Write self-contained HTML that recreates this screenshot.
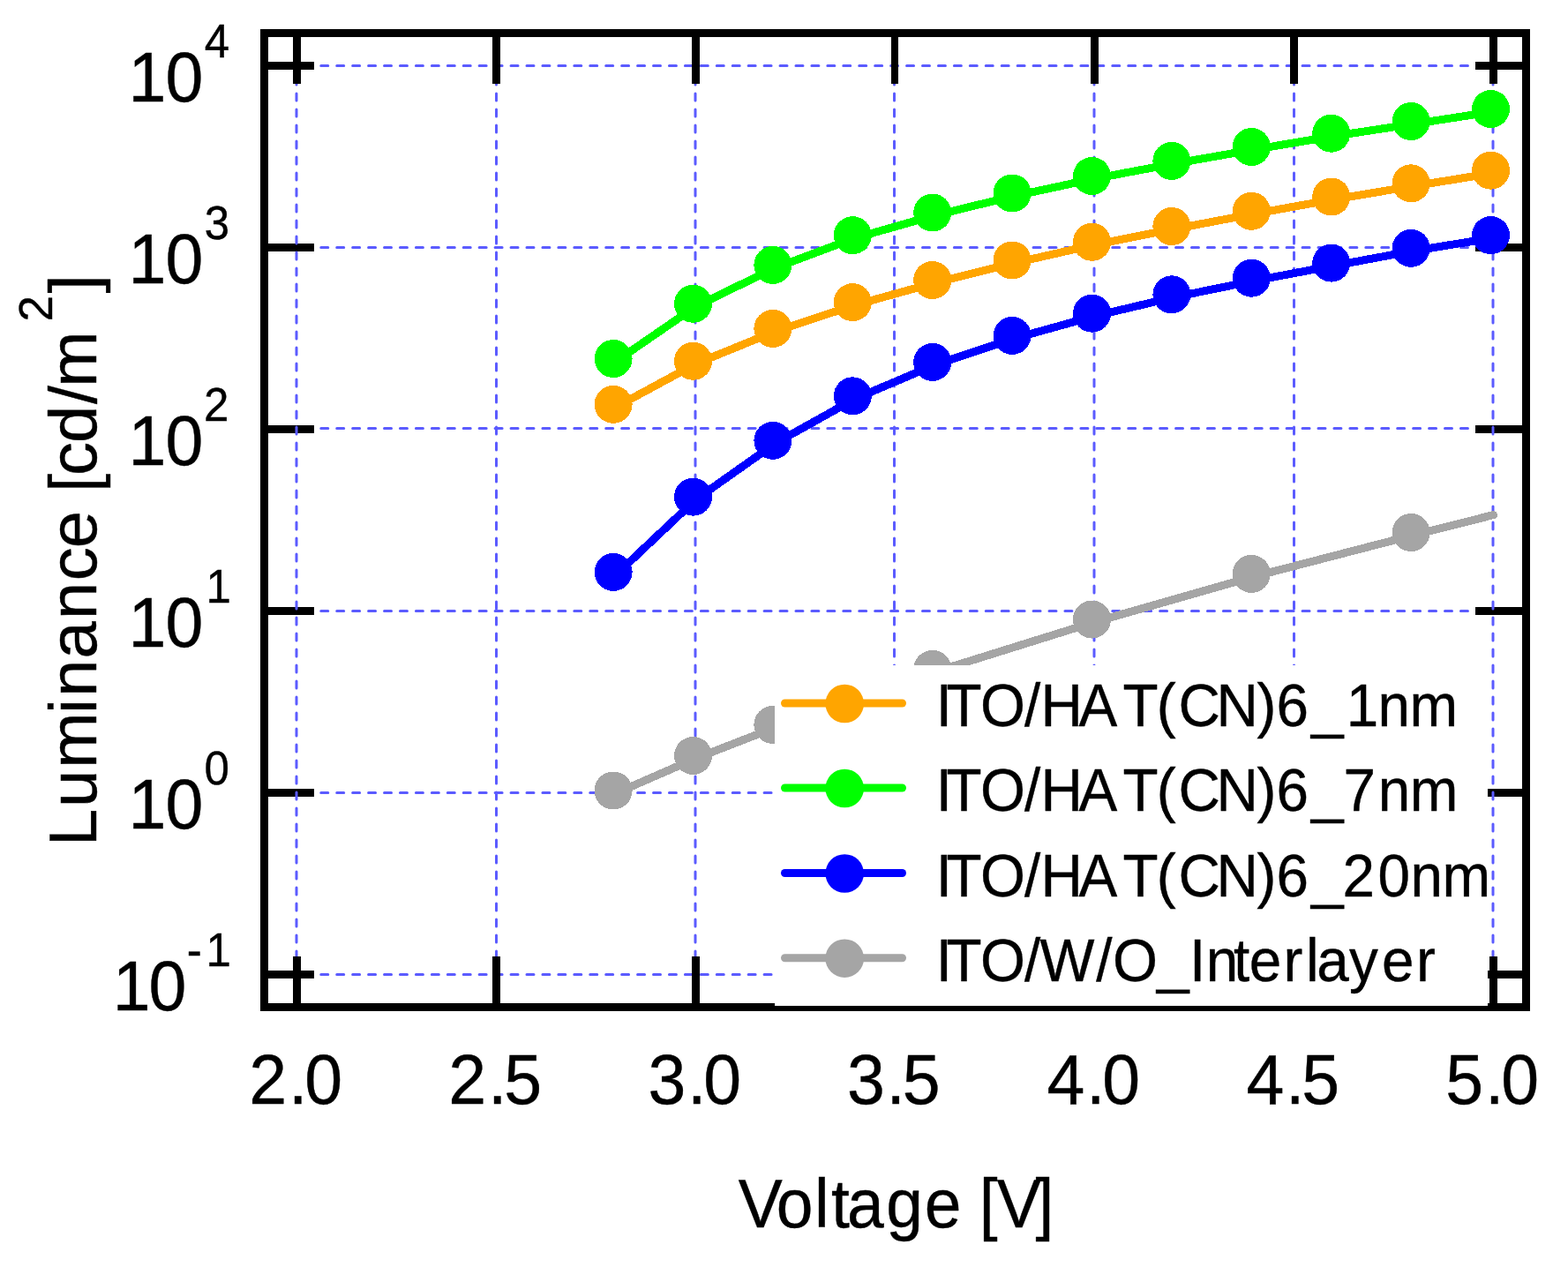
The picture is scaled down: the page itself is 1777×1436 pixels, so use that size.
<!DOCTYPE html><html><head><meta charset="utf-8"><title>Luminance vs Voltage</title>
<style>html,body{margin:0;padding:0;background:#fff;overflow:hidden}svg{display:block}</style></head><body>
<svg width="1777" height="1436" viewBox="0 0 1777 1436">
<rect x="0" y="0" width="1777" height="1436" fill="#fff"/>
<defs><clipPath id="pa"><rect x="295" y="33" width="1439" height="1113"/></clipPath></defs>
<g stroke="#5b5bff" stroke-width="3" stroke-dasharray="8 9.94" stroke-linecap="round" fill="none" clip-path="url(#pa)">
<line x1="295" y1="74.5" x2="1734" y2="74.5" stroke-dashoffset="3"/>
<line x1="295" y1="280.5" x2="1734" y2="280.5" stroke-dashoffset="3"/>
<line x1="295" y1="485.5" x2="1734" y2="485.5" stroke-dashoffset="3"/>
<line x1="295" y1="692.5" x2="1734" y2="692.5" stroke-dashoffset="3"/>
<line x1="295" y1="898.5" x2="1734" y2="898.5" stroke-dashoffset="3"/>
<line x1="295" y1="1104.5" x2="1734" y2="1104.5" stroke-dashoffset="3"/>
</g>
<g fill="#000">
<rect x="304" y="1100.0" width="52" height="9"/>
<rect x="1672" y="1100.0" width="53" height="9"/>
<rect x="304" y="894.0" width="52" height="9"/>
<rect x="1672" y="894.0" width="53" height="9"/>
<rect x="304" y="688.0" width="52" height="9"/>
<rect x="1672" y="688.0" width="53" height="9"/>
<rect x="304" y="482.0" width="52" height="9"/>
<rect x="1672" y="482.0" width="53" height="9"/>
<rect x="304" y="276.0" width="52" height="9"/>
<rect x="1672" y="276.0" width="53" height="9"/>
<rect x="304" y="70.0" width="52" height="9"/>
<rect x="1672" y="70.0" width="53" height="9"/>
</g>
<g stroke="#5b5bff" stroke-width="3" stroke-dasharray="8 10" stroke-linecap="round" fill="none" clip-path="url(#pa)">
<line x1="336" y1="33" x2="336" y2="1146" stroke-dashoffset="-1"/>
<line x1="562.5" y1="33" x2="562.5" y2="1146" stroke-dashoffset="-1"/>
<line x1="788" y1="33" x2="788" y2="1146" stroke-dashoffset="-1"/>
<line x1="1013.5" y1="33" x2="1013.5" y2="1146" stroke-dashoffset="-1"/>
<line x1="1240" y1="33" x2="1240" y2="1146" stroke-dashoffset="-1"/>
<line x1="1466.5" y1="33" x2="1466.5" y2="1146" stroke-dashoffset="-1"/>
<line x1="1692" y1="33" x2="1692" y2="1146" stroke-dashoffset="-1"/>
</g>
<g fill="#000">
<rect x="332" y="42" width="9" height="53"/>
<rect x="332" y="1084" width="9" height="53"/>
<rect x="558" y="42" width="9" height="53"/>
<rect x="558" y="1084" width="9" height="53"/>
<rect x="784" y="42" width="9" height="53"/>
<rect x="784" y="1084" width="9" height="53"/>
<rect x="1010" y="42" width="8" height="53"/>
<rect x="1010" y="1084" width="8" height="53"/>
<rect x="1236" y="42" width="9" height="53"/>
<rect x="1236" y="1084" width="9" height="53"/>
<rect x="1462" y="42" width="9" height="53"/>
<rect x="1462" y="1084" width="9" height="53"/>
<rect x="1688" y="42" width="9" height="53"/>
<rect x="1688" y="1084" width="9" height="53"/>
</g>
<rect x="299.5" y="37.5" width="1430" height="1104" fill="none" stroke="#000" stroke-width="9"/>
<polyline points="698.1,899.0 788.5,859.5 878.9,824.4 969.3,792.5 1059.7,761.4 1240.5,705.0 1421.3,653.4 1602.1,606.5 1692.5,583.6" fill="none" stroke="#a5a5a5" stroke-width="9" stroke-linejoin="round" stroke-linecap="round" shape-rendering="crispEdges"/>
<g fill="#a5a5a5" shape-rendering="crispEdges">
<circle cx="695.1" cy="896.0" r="21.5"/>
<circle cx="785.5" cy="856.5" r="21.5"/>
<circle cx="875.9" cy="821.4" r="21.5"/>
<circle cx="1056.7" cy="758.4" r="21.5"/>
<circle cx="1237.5" cy="702.0" r="21.5"/>
<circle cx="1418.3" cy="650.4" r="21.5"/>
<circle cx="1599.1" cy="603.5" r="21.5"/>
</g>
<polyline points="698.1,409.5 788.5,347.3 878.9,303.4 969.3,269.7 1059.7,244.0 1150.1,222.0 1240.5,202.5 1330.9,185.4 1421.3,169.5 1511.7,154.2 1602.1,140.5 1692.5,126.5" fill="none" stroke="#00ff00" stroke-width="9" stroke-linejoin="round" stroke-linecap="round" shape-rendering="crispEdges"/>
<g fill="#00ff00" shape-rendering="crispEdges">
<circle cx="695.1" cy="406.5" r="21.5"/>
<circle cx="785.5" cy="344.3" r="21.5"/>
<circle cx="875.9" cy="300.4" r="21.5"/>
<circle cx="966.3" cy="266.7" r="21.5"/>
<circle cx="1056.7" cy="241.0" r="21.5"/>
<circle cx="1147.1" cy="219.0" r="21.5"/>
<circle cx="1237.5" cy="199.5" r="21.5"/>
<circle cx="1327.9" cy="182.4" r="21.5"/>
<circle cx="1418.3" cy="166.5" r="21.5"/>
<circle cx="1508.7" cy="151.2" r="21.5"/>
<circle cx="1599.1" cy="137.5" r="21.5"/>
<circle cx="1689.5" cy="123.5" r="21.5"/>
</g>
<polyline points="698.1,461.3 788.5,412.3 878.9,375.4 969.3,345.6 1059.7,320.5 1150.1,298.0 1240.5,277.3 1330.9,259.5 1421.3,242.3 1511.7,226.0 1602.1,210.8 1692.5,196.2" fill="none" stroke="#ffa500" stroke-width="9" stroke-linejoin="round" stroke-linecap="round" shape-rendering="crispEdges"/>
<g fill="#ffa500" shape-rendering="crispEdges">
<circle cx="695.1" cy="458.3" r="21.5"/>
<circle cx="785.5" cy="409.3" r="21.5"/>
<circle cx="875.9" cy="372.4" r="21.5"/>
<circle cx="966.3" cy="342.6" r="21.5"/>
<circle cx="1056.7" cy="317.5" r="21.5"/>
<circle cx="1147.1" cy="295.0" r="21.5"/>
<circle cx="1237.5" cy="274.3" r="21.5"/>
<circle cx="1327.9" cy="256.5" r="21.5"/>
<circle cx="1418.3" cy="239.3" r="21.5"/>
<circle cx="1508.7" cy="223.0" r="21.5"/>
<circle cx="1599.1" cy="207.8" r="21.5"/>
<circle cx="1689.5" cy="193.2" r="21.5"/>
</g>
<polyline points="698.1,651.4 788.5,566.2 878.9,502.3 969.3,451.8 1059.7,413.4 1150.1,383.4 1240.5,358.2 1330.9,336.8 1421.3,318.2 1511.7,301.1 1602.1,284.3 1692.5,269.6" fill="none" stroke="#0000ff" stroke-width="9" stroke-linejoin="round" stroke-linecap="round" shape-rendering="crispEdges"/>
<g fill="#0000ff" shape-rendering="crispEdges">
<circle cx="695.1" cy="648.4" r="21.5"/>
<circle cx="785.5" cy="563.2" r="21.5"/>
<circle cx="875.9" cy="499.3" r="21.5"/>
<circle cx="966.3" cy="448.8" r="21.5"/>
<circle cx="1056.7" cy="410.4" r="21.5"/>
<circle cx="1147.1" cy="380.4" r="21.5"/>
<circle cx="1237.5" cy="355.2" r="21.5"/>
<circle cx="1327.9" cy="333.8" r="21.5"/>
<circle cx="1418.3" cy="315.2" r="21.5"/>
<circle cx="1508.7" cy="298.1" r="21.5"/>
<circle cx="1599.1" cy="281.3" r="21.5"/>
<circle cx="1689.5" cy="266.6" r="21.5"/>
</g>
<rect x="878" y="754" width="808" height="386" fill="#fff"/>
<line x1="889.5" y1="797.0" x2="1022.5" y2="797.0" stroke="#ffa500" stroke-width="9" stroke-linecap="round"/>
<circle cx="957.2" cy="797.5" r="21.8" fill="#ffa500"/>
<text transform="translate(0,823.2) scale(1,1.054)" x="1060.8 1072.5 1110.9 1161.0 1179.5 1222.5 1272.4 1310.8 1335.5 1378.5 1424.5 1446.6 1486.1 1525.7 1561.6 1597.6" font-family="'Liberation Sans', sans-serif" font-size="65.6" fill="#000" stroke="#000" stroke-width="0.4">ITO/HAT(CN)6_1nm</text>
<line x1="889.5" y1="893.0" x2="1022.5" y2="893.0" stroke="#00ff00" stroke-width="9" stroke-linecap="round"/>
<circle cx="957.2" cy="893.5" r="21.8" fill="#00ff00"/>
<text transform="translate(0,919.2) scale(1,1.054)" x="1060.8 1072.5 1110.9 1161.0 1179.5 1222.5 1272.4 1310.8 1335.5 1378.5 1424.5 1446.6 1486.1 1522.5 1561.7 1597.7" font-family="'Liberation Sans', sans-serif" font-size="65.6" fill="#000" stroke="#000" stroke-width="0.4">ITO/HAT(CN)6_7nm</text>
<line x1="889.5" y1="989.5" x2="1022.5" y2="989.5" stroke="#0000ff" stroke-width="9" stroke-linecap="round"/>
<circle cx="957.2" cy="990.0" r="21.8" fill="#0000ff"/>
<text transform="translate(0,1015.7) scale(1,1.054)" x="1060.8 1072.5 1110.9 1161.0 1179.5 1222.5 1272.4 1310.8 1335.5 1378.5 1424.5 1446.6 1486.1 1521.6 1561.5 1598.5 1634.4" font-family="'Liberation Sans', sans-serif" font-size="65.6" fill="#000" stroke="#000" stroke-width="0.4">ITO/HAT(CN)6_20nm</text>
<line x1="889.5" y1="1085.7" x2="1022.5" y2="1085.7" stroke="#a5a5a5" stroke-width="9" stroke-linecap="round"/>
<circle cx="957.2" cy="1086.2" r="21.8" fill="#a5a5a5"/>
<text transform="translate(0,1111.9) scale(1,1.054)" x="1060.8 1072.5 1110.9 1161.0 1178.6 1242.2 1260.9 1311.0 1348.0 1366.8 1398.1 1415.7 1454.6 1480.0 1492.2 1528.9 1566.0 1604.9" font-family="'Liberation Sans', sans-serif" font-size="65.6" fill="#000" stroke="#000" stroke-width="0.4">ITO/W/O_Interlayer</text>
<text transform="translate(0,1145.2) scale(1,1.04)" x="127.8 168.6" font-family="'Liberation Sans', sans-serif" font-size="77" fill="#000" stroke="#000" stroke-width="0.4">10</text>
<text transform="translate(0,1095.0) scale(1,1.04)" x="211.7 233.5" font-family="'Liberation Sans', sans-serif" font-size="51" fill="#000" stroke="#000" stroke-width="0.4">-1</text>
<text transform="translate(0,939.2) scale(1,1.04)" x="145.5 187.4" font-family="'Liberation Sans', sans-serif" font-size="77" fill="#000" stroke="#000" stroke-width="0.4">10</text>
<text transform="translate(0,888.5) scale(1,1.04)" x="231.6" font-family="'Liberation Sans', sans-serif" font-size="51" fill="#000" stroke="#000" stroke-width="0.4">0</text>
<text transform="translate(0,733.2) scale(1,1.04)" x="145.5 187.4" font-family="'Liberation Sans', sans-serif" font-size="77" fill="#000" stroke="#000" stroke-width="0.4">10</text>
<text transform="translate(0,682.5) scale(1,1.04)" x="233.6" font-family="'Liberation Sans', sans-serif" font-size="51" fill="#000" stroke="#000" stroke-width="0.4">1</text>
<text transform="translate(0,527.2) scale(1,1.04)" x="145.5 187.4" font-family="'Liberation Sans', sans-serif" font-size="77" fill="#000" stroke="#000" stroke-width="0.4">10</text>
<text transform="translate(0,476.5) scale(1,1.04)" x="231" font-family="'Liberation Sans', sans-serif" font-size="51" fill="#000" stroke="#000" stroke-width="0.4">2</text>
<text transform="translate(0,321.2) scale(1,1.04)" x="145.5 187.4" font-family="'Liberation Sans', sans-serif" font-size="77" fill="#000" stroke="#000" stroke-width="0.4">10</text>
<text transform="translate(0,270.5) scale(1,1.04)" x="231.7" font-family="'Liberation Sans', sans-serif" font-size="51" fill="#000" stroke="#000" stroke-width="0.4">3</text>
<text transform="translate(0,115.2) scale(1,1.04)" x="145.5 187.4" font-family="'Liberation Sans', sans-serif" font-size="77" fill="#000" stroke="#000" stroke-width="0.4">10</text>
<text transform="translate(0,64.5) scale(1,1.04)" x="231.8" font-family="'Liberation Sans', sans-serif" font-size="51" fill="#000" stroke="#000" stroke-width="0.4">4</text>
<text transform="translate(0,1250.5) scale(1,1.04)" x="282.2 327.1 345.2" font-family="'Liberation Sans', sans-serif" font-size="77" fill="#000" stroke="#000" stroke-width="0.4">2.0</text>
<text transform="translate(0,1250.5) scale(1,1.04)" x="508.2 553.1 571.3" font-family="'Liberation Sans', sans-serif" font-size="77" fill="#000" stroke="#000" stroke-width="0.4">2.5</text>
<text transform="translate(0,1250.5) scale(1,1.04)" x="734.4 779.1 797.2" font-family="'Liberation Sans', sans-serif" font-size="77" fill="#000" stroke="#000" stroke-width="0.4">3.0</text>
<text transform="translate(0,1250.5) scale(1,1.04)" x="959.9 1004.6 1022.8" font-family="'Liberation Sans', sans-serif" font-size="77" fill="#000" stroke="#000" stroke-width="0.4">3.5</text>
<text transform="translate(0,1250.5) scale(1,1.04)" x="1186.4 1231.1 1249.2" font-family="'Liberation Sans', sans-serif" font-size="77" fill="#000" stroke="#000" stroke-width="0.4">4.0</text>
<text transform="translate(0,1250.5) scale(1,1.04)" x="1412.4 1457.1 1475.3" font-family="'Liberation Sans', sans-serif" font-size="77" fill="#000" stroke="#000" stroke-width="0.4">4.5</text>
<text transform="translate(0,1250.5) scale(1,1.04)" x="1638.3 1683.1 1701.2" font-family="'Liberation Sans', sans-serif" font-size="77" fill="#000" stroke="#000" stroke-width="0.4">5.0</text>
<text transform="translate(0,1391) scale(1,1.03)" x="836.7 879.8 922.9 942.0 959.9 1004.2 1047.8 1089.5 1109.7 1129.7 1173.5" font-family="'Liberation Sans', sans-serif" font-size="75" fill="#000" stroke="#000" stroke-width="0.4">Voltage [V]</text>
<text transform="translate(109,0) rotate(-90)" font-family="'Liberation Sans', sans-serif" font-size="76" fill="#000" stroke="#000" stroke-width="0.4"><tspan x="-959.1 -915.0 -870.8 -809.0 -789.8 -746.6 -702.0 -658.2 -621.3 -579.1 -558.1 -538.9 -502.0 -458.0 -438.8" y="0">Luminance [cd/m</tspan><tspan x="-364.5" y="-50" font-size="53">2</tspan><tspan x="-332.4" y="0">]</tspan></text>
</svg></body></html>
